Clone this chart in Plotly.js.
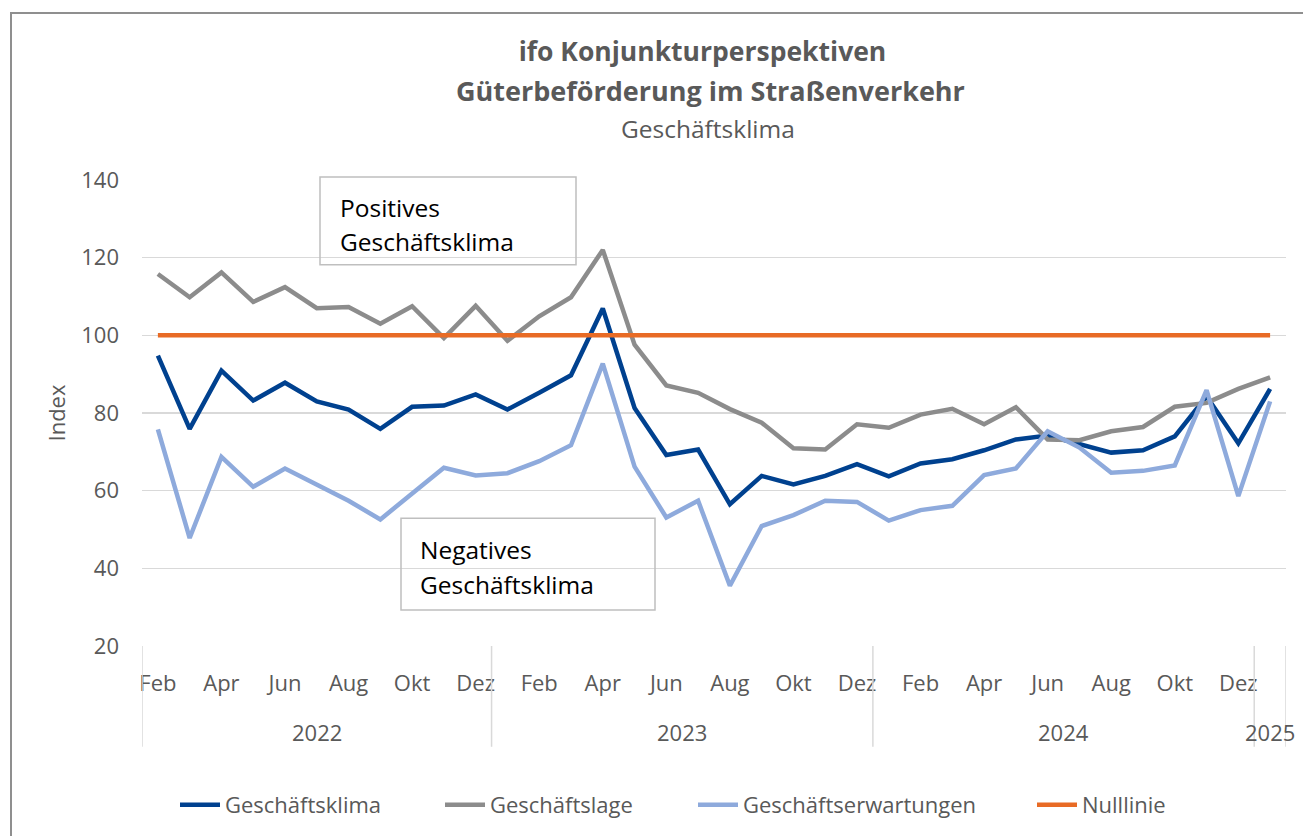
<!DOCTYPE html>
<html>
<head>
<meta charset="utf-8">
<script src="https://cdn.plot.ly/plotly-3.0.1.min.js"></script>
<style>
  html, body { margin: 0; padding: 0; background: #ffffff; overflow: hidden; }
  #frame { position: absolute; left: 10px; top: 12px; width: 1400px; height: 900px;
           border-top: 2px solid #8f8f8f; border-left: 2px solid #8f8f8f; z-index: 0; }
  #chart { position: absolute; left: 0; top: 0; width: 1303px; height: 836px; z-index: 1; }
</style>
</head>
<body>
<div id="frame"></div>
<div id="chart"></div>
<script>
// ---- data ----
const months = ['Feb','Mär','Apr','Mai','Jun','Jul','Aug','Sep','Okt','Nov','Dez',
                'Jan','Feb','Mär','Apr','Mai','Jun','Jul','Aug','Sep','Okt','Nov','Dez',
                'Jan','Feb','Mär','Apr','Mai','Jun','Jul','Aug','Sep','Okt','Nov','Dez',
                'Jan'];
const years = ['2022','2022','2022','2022','2022','2022','2022','2022','2022','2022','2022',
               '2023','2023','2023','2023','2023','2023','2023','2023','2023','2023','2023','2023',
               '2024','2024','2024','2024','2024','2024','2024','2024','2024','2024','2024','2024',
               '2025'];
const geschaeftsklima = [94.8, 75.9, 90.9, 83.2, 87.8, 83.0, 80.9, 75.9, 81.6, 81.9, 84.8,
                         80.9, 85.2, 89.7, 106.9, 81.3, 69.2, 70.6, 56.5, 63.8, 61.6, 63.8, 66.8,
                         63.7, 67.0, 68.1, 70.4, 73.2, 74.2, 71.9, 69.8, 70.4, 74.0, 84.3, 72.2,
                         86.2];
const geschaeftslage = [115.8, 109.8, 116.2, 108.6, 112.4, 107.0, 107.3, 103.0, 107.5, 99.3, 107.6,
                        98.6, 104.9, 109.8, 122.0, 97.6, 87.1, 85.2, 81.0, 77.5, 70.9, 70.6, 77.1,
                        76.2, 79.6, 81.1, 77.1, 81.5, 73.2, 73.0, 75.3, 76.4, 81.6, 82.6, 86.2,
                        89.2];
const geschaeftserwartungen = [75.8, 47.8, 68.7, 61.0, 65.7, 61.4, 57.4, 52.6, 59.1, 65.9, 63.9,
                               64.5, 67.6, 71.7, 92.7, 66.2, 53.1, 57.4, 35.5, 50.9, 53.7, 57.4, 57.1,
                               52.3, 55.0, 56.1, 64.0, 65.7, 75.3, 71.1, 64.6, 65.1, 66.5, 85.9, 58.6,
                               83.0];
const nulllinie = months.map(() => 100);
const yTicks = [20, 40, 60, 80, 100, 120, 140];

// ---- helpers ----
const idx = months.map((_, i) => i);
const tickvals = idx.filter(i => i % 2 === 0);
const ticktext = tickvals.map(i => months[i]);

// pixel -> paper helpers for decorations
const PL = 142, PR = 1286, PT = 180, PB = 647;
const px = x => (x - PL) / (PR - PL);
const py = y => (PB - y) / (PB - PT);

// year groups
const groups = [];
years.forEach((y, i) => {
  if (!groups.length || groups[groups.length - 1].year !== y) groups.push({year: y, start: i, end: i});
  else groups[groups.length - 1].end = i;
});

const gray = '#595959';
const font = 'Open Sans, Noto Sans, sans-serif';

const mk = (name, y, color, legendId) => ({
  x: idx, y: y, name: name, type: 'scatter', mode: 'lines',
  line: {color: color, width: 4.5, shape: 'linear'},
  legend: legendId,
  hoverinfo: 'x+y+name'
});

const traces = [
  mk('Geschäftsklima', geschaeftsklima, '#00418f', 'legend'),
  mk('Geschäftslage', geschaeftslage, '#8c8c8c', 'legend2'),
  mk('Geschäftserwartungen', geschaeftserwartungen, '#8eaadc', 'legend3'),
  mk('Nulllinie', nulllinie, '#e86b25', 'legend4')
];

const shapes = [];
const divY = py(748);
const boundaries = [-0.5].concat(groups.map(g => g.end + 0.5));
boundaries.forEach(b => shapes.push({
  type: 'line', xref: 'x', yref: 'paper', x0: b, x1: b, y0: 0, y1: divY,
  line: {color: '#d9d9d9', width: 1.5}
}));
// text boxes
shapes.push({type: 'rect', xref: 'paper', yref: 'paper', x0: px(320), x1: px(576), y0: py(177), y1: py(265),
             line: {color: '#bfbfbf', width: 1.5}, fillcolor: 'rgba(255,255,255,0)'});
shapes.push({type: 'rect', xref: 'paper', yref: 'paper', x0: px(401), x1: px(655), y0: py(519), y1: py(611),
             line: {color: '#bfbfbf', width: 1.5}, fillcolor: 'rgba(255,255,255,0)'});

const annotations = [];
groups.forEach(g => annotations.push({
  x: (g.start + g.end) / 2, xref: 'x', y: py(733), yref: 'paper',
  text: g.year, showarrow: false, xanchor: 'center', yanchor: 'middle',
  font: {family: font, size: 22, color: gray}
}));
const boxText = (t, x, y) => ({
  x: px(x), xref: 'paper', y: py(y), yref: 'paper', text: t, showarrow: false,
  xanchor: 'left', yanchor: 'middle', font: {family: font, size: 24.5, color: '#000000'}
});
annotations.push(boxText('Positives', 338, 208));
annotations.push(boxText('Geschäftsklima', 338, 242));
annotations.push(boxText('Negatives', 418, 550));
annotations.push(boxText('Geschäftsklima', 418, 585));
// title lines 2 and 3
annotations.push({x: px(710), xref: 'paper', y: py(90), yref: 'paper',
  text: '<b>Güterbeförderung im Straßenverkehr</b>', showarrow: false, xanchor: 'center', yanchor: 'middle',
  font: {family: font, size: 27, color: gray}});
annotations.push({x: px(708), xref: 'paper', y: py(128), yref: 'paper',
  text: 'Geschäftsklima', showarrow: false, xanchor: 'center', yanchor: 'middle',
  font: {family: font, size: 24.5, color: gray}});

const legendBase = (textStart) => ({
  orientation: 'h', x: px(textStart - 50), xanchor: 'left', y: py(805), yanchor: 'middle',
  font: {family: font, size: 22, color: gray}, bgcolor: 'rgba(0,0,0,0)', itemwidth: 40
});

const layout = {
  width: 1303, height: 836,
  margin: {l: PL, r: 1303 - PR, t: PT, b: 836 - PB},
  paper_bgcolor: 'rgba(0,0,0,0)', plot_bgcolor: 'rgba(0,0,0,0)',
  font: {family: font, color: gray, size: 22},
  title: {text: '<b>ifo Konjunkturperspektiven</b>', x: 702.5 / 1303, xref: 'container', xanchor: 'center',
          y: 1 - 52 / 836, yref: 'container', yanchor: 'middle',
          font: {family: font, size: 26.5, color: gray}},
  showlegend: true,
  legend: legendBase(225),
  legend2: legendBase(490),
  legend3: legendBase(743),
  legend4: legendBase(1082),
  xaxis: {
    type: 'linear', range: [-0.5, 35.5], tickvals: tickvals, ticktext: ticktext,
    showgrid: false, zeroline: false, showline: false, ticks: '',
    ticklabelstandoff: 22, tickfont: {family: font, size: 22, color: gray}, fixedrange: true
  },
  yaxis: {
    range: [20, 140], tickvals: yTicks, showgrid: true, gridcolor: '#d9d9d9', gridwidth: 1.5,
    zeroline: false, showline: false, ticks: '', ticklabelstandoff: 22,
    tickfont: {family: font, size: 22, color: gray},
    title: {text: 'Index', font: {family: font, size: 22, color: gray}, standoff: 9},
    fixedrange: true
  },
  shapes: shapes,
  annotations: annotations
};

Plotly.newPlot('chart', traces, layout, {displayModeBar: false, staticPlot: true});
</script>
</body>
</html>
